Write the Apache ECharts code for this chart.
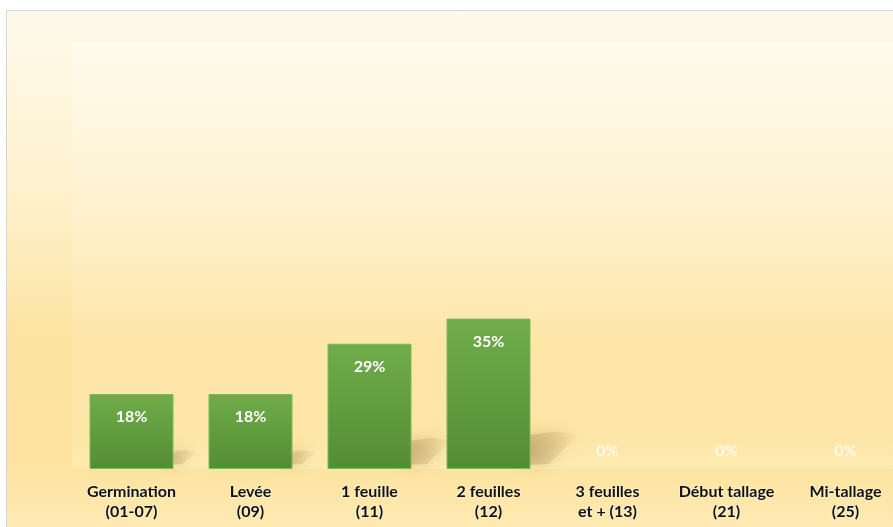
<!DOCTYPE html>
<html>
<head>
<meta charset="utf-8">
<script src="https://cdn.jsdelivr.net/npm/echarts@6/dist/echarts.min.js"></script>
<style>
html,body{margin:0;padding:0;background:#fff;overflow:hidden;width:893px;height:527px;}
#main{width:906px;height:527px;}
</style>
</head>
<body>
<div id="main"></div>
<script>
// Data
var categories = ['Germination\n(01-07)', 'Levée\n(09)', '1 feuille\n(11)', '2 feuilles\n(12)', '3 feuilles\net + (13)', 'Début tallage\n(21)', 'Mi-tallage\n(25)'];
var values = [17.6, 17.6, 29.4, 35.3, 0, 0, 0];
var yMax = 100;

var chart = echarts.init(document.getElementById('main'), null, {renderer: 'canvas'});

function lg(stops) {
  return new echarts.graphic.LinearGradient(0, 0, 0, 1, stops);
}

var barData = values.map(function (v) {
  if (v === 0) {
    return {value: v, itemStyle: {borderWidth: 0}, label: {position: 'top', distance: 10, color: 'rgba(255,255,255,0.8)'}};
  }
  return {value: v};
});
var shadowData = values.map(function (v, i) { return [i, v]; });

var option = {
  animation: false,
  graphic: [{
    type: 'rect',
    z: -10,
    shape: {x: 6.5, y: 10.5, width: 920, height: 530},
    style: {
      fill: lg([
        {offset: 0, color: '#fefaec'},
        {offset: 0.35, color: '#fef1cc'},
        {offset: 0.62, color: '#fde3a0'},
        {offset: 0.85, color: '#fde39f'},
        {offset: 1, color: '#feebb5'}
      ]),
      stroke: '#d6d6d6',
      lineWidth: 1
    }
  }],
  grid: {
    left: 72, top: 43, width: 833, height: 426,
    outerBoundsMode: 'none',
    show: true,
    borderWidth: 0,
    backgroundColor: lg([
      {offset: 0, color: '#fffbee'},
      {offset: 0.4, color: '#fef1cd'},
      {offset: 0.7, color: '#fde6a8'},
      {offset: 0.93, color: '#fde6a7'},
      {offset: 1, color: '#feeab2'}
    ])
  },
  xAxis: {
    type: 'category',
    data: categories,
    axisLine: {show: false},
    axisTick: {show: false},
    axisLabel: {
      interval: 0,
      margin: 13,
      color: '#111',
      fontFamily: 'Lato',
      fontWeight: 'bold',
      fontSize: 16,
      lineHeight: 20,
      textShadowColor: 'rgba(255,255,255,0.9)',
      textShadowBlur: 2
    }
  },
  yAxis: {
    type: 'value',
    min: 0,
    max: yMax,
    show: false,
    splitLine: {show: false}
  },
  series: [
    {
      type: 'custom',
      z: 1,
      silent: true,
      data: shadowData,
      renderItem: function (params, api) {
        var i = api.value(0);
        var v = api.value(1);
        var top = api.coord([i, v]);
        var base = api.coord([i, 0]);
        var h = base[1] - top[1];
        if (h <= 0) return null;
        var xr = base[0] + 42;
        var b = base[1];
        return {
          type: 'polygon',
          shape: {points: [
            [xr - 6, b - 4],
            [xr + 0.12 * h, b - 5],
            [xr + 0.32 * h, b - 0.23 * h],
            [xr + 0.16 * h, b - 0.25 * h],
            [xr - 6, b - 0.22 * h]
          ]},
          style: {
            fill: new echarts.graphic.LinearGradient(0, 0, 1, 0, [
              {offset: 0, color: 'rgba(140,110,60,0.3)'},
              {offset: 0.6, color: 'rgba(160,130,70,0.15)'},
              {offset: 1, color: 'rgba(180,150,80,0.03)'}
            ]),
            shadowBlur: 16,
            shadowColor: 'rgba(120,90,40,0.95)'
          }
        };
      }
    },
    {
      type: 'bar',
      z: 2,
      data: barData,
      barWidth: 84,
      itemStyle: {
        color: lg([
          {offset: 0, color: '#70ad4a'},
          {offset: 1, color: '#548c35'}
        ]),
        borderColor: '#7dbb56',
        borderWidth: 1
      },
      label: {
        show: true,
        position: 'insideTop',
        distance: 15,
        color: '#ffffff',
        fontFamily: 'Lato',
        fontWeight: 'bold',
        fontSize: 16,
        formatter: function (p) { return Math.round(p.value) + '%'; }
      }
    }
  ]
};
chart.setOption(option);
</script>
</body>
</html>
